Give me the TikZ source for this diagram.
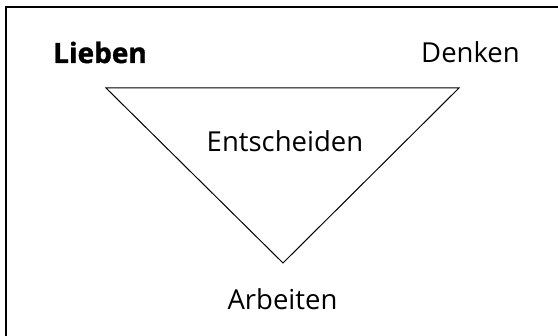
\documentclass[tikz,border=0pt]{standalone}
\usepackage{fontspec}
\setmainfont{Open Sans}
\newfontfamily\heavyfont{Open Sans}[BoldFeatures={FakeBold=1.2}]
\begin{document}
\begin{tikzpicture}[x=1pt,y=-1pt,
  lbl/.style={font=\fontsize{27.5}{30}\selectfont, inner sep=0pt, anchor=base},
  edge/.style={line width=1pt, line join=miter}]
\useasboundingbox (0,0) rectangle (558,336);
\draw[line width=2pt] (6.3,336) -- (6.3,7) -- (558,7);
\coordinate (tl) at (106,88);
\coordinate (tr) at (459,88);
\coordinate (bt) at (283,263);
\draw[edge] (tl) -- (tr) -- (bt) -- cycle;
\node[lbl, font=\fontsize{28}{30}\selectfont\heavyfont\bfseries] (lieben) at (100,63) {Lieben};
\node[lbl] (denken) at (470.5,63) {Denken};
\node[lbl] (entscheiden) at (285,152) {Entscheiden};
\node[lbl] (arbeiten) at (282.5,310) {Arbeiten};
\end{tikzpicture}
\end{document}
